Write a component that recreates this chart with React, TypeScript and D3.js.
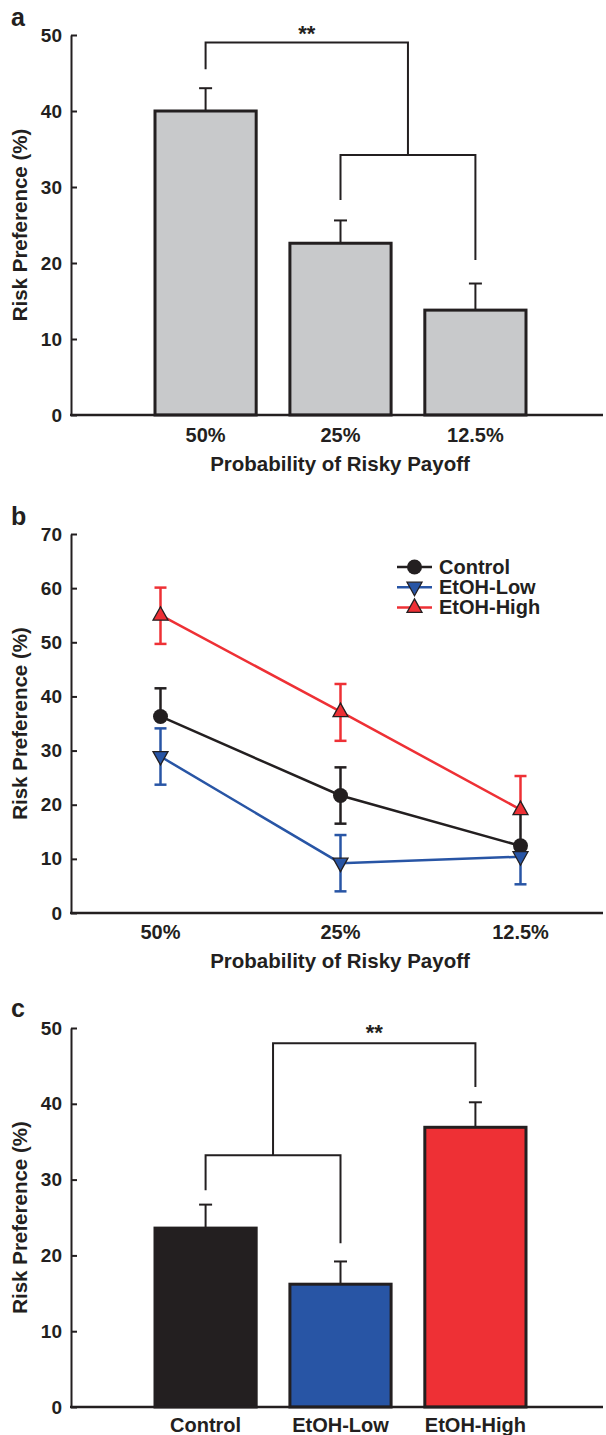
import React, { useEffect, useRef } from 'react';
import * as d3 from 'd3';

const probCats = ['50%', '25%', '12.5%'];
const groupCats = ['Control', 'EtOH-Low', 'EtOH-High'];

// panel a: risk preference by probability
const probMeans = [40.0, 22.6, 13.8];
const probSem = [3.0, 3.0, 3.5];
const bracketA = [49.0, 45.5, 34.2, 28.3, 20.4]; // top, left leg end, inner bracket, inner legs

// panel b: by group x probability
const controlMeans = [36.3, 21.7, 12.4];
const controlUp = [5.2, 5.2, 6.0];
const controlDown = [0, 5.2, 0];
const lowMeans = [28.9, 9.2, 10.4];
const lowUp = [5.2, 5.2, 0];
const lowDown = [5.2, 5.2, 5.1];
const highMeans = [55.0, 37.2, 19.1];
const highUp = [5.1, 5.1, 6.2];
const highDown = [5.3, 5.4, 0];

// panel c: by group
const groupMeans = [23.6, 16.2, 36.9];
const groupSem = [3.1, 3.0, 3.3];
const bracketC = [48.0, 42.2, 33.2, 28.6, 21.6];

const ticksA = [0, 10, 20, 30, 40, 50];
const ticksB = [0, 10, 20, 30, 40, 50, 60, 70];
const ticksC = [0, 10, 20, 30, 40, 50];

const INK = '#231f20';
const RED = '#ee3035';
const BLUE = '#2855a5';
const GREY = '#c8c9cb';
const FONT = '"Liberation Sans", Arial, Helvetica, sans-serif';

export default function App() {
  const svgRef = useRef<SVGSVGElement>(null);

  useEffect(() => {
    if (!svgRef.current) return;
    const svg = d3.select(svgRef.current);
    svg.selectAll('*').remove();

    const X0 = 71, X1 = 603;

    const band = d3.scaleBand<string>().range([155, 526]).paddingInner(0.25).paddingOuter(0);
    const point = d3.scalePoint<string>().domain(probCats).range([160.5, 520.5]);

    const yA = d3.scaleLinear().domain([0, 50]).range([415, 35]);
    const yB = d3.scaleLinear().domain([0, 70]).range([913, 534]);
    const yC = d3.scaleLinear().domain([0, 50]).range([1407, 1028]);

    const yAxis = (y: d3.ScaleLinear<number, number>, ticks: number[]) => {
      const g = svg.append('g')
        .attr('transform', `translate(${X0},0)`)
        .call(d3.axisLeft(y).tickValues(ticks).tickSizeInner(-6).tickSizeOuter(0).tickPadding(9));
      g.attr('font-family', FONT).attr('font-size', 19).attr('font-weight', 'bold');
      g.select('.domain').attr('stroke', INK).attr('stroke-width', 2);
      g.selectAll('.tick line').attr('stroke', INK).attr('stroke-width', 2);
      g.selectAll('.tick text').attr('fill', INK);
      svg.append('line')
        .attr('x1', X0 - 1).attr('x2', X1)
        .attr('y1', y(0)).attr('y2', y(0))
        .attr('stroke', INK).attr('stroke-width', 2.5);
      const [r0, r1] = y.range();
      svg.append('text')
        .attr('transform', `translate(19,${(r0 + r1) / 2}) rotate(-90)`)
        .attr('text-anchor', 'middle').attr('dominant-baseline', 'central')
        .attr('font-family', FONT).attr('font-size', 20.5).attr('font-weight', 'bold')
        .attr('fill', INK)
        .text('Risk Preference (%)');
    };

    const catLabels = (cats: string[], xs: (c: string) => number, yy: number) => {
      svg.append('g').selectAll('text').data(cats).join('text')
        .attr('x', d => xs(d)).attr('y', yy)
        .attr('text-anchor', 'middle').attr('dominant-baseline', 'central')
        .attr('font-family', FONT).attr('font-size', 20).attr('font-weight', 'bold')
        .attr('fill', INK)
        .text(d => d);
    };

    const xTitle = (yy: number) => {
      svg.append('text')
        .attr('x', (208 + 472) / 2).attr('y', yy)
        .attr('text-anchor', 'middle').attr('dominant-baseline', 'central')
        .attr('font-family', FONT).attr('font-size', 20.5).attr('font-weight', 'bold')
        .attr('fill', INK)
        .text('Probability of Risky Payoff');
    };

    const panelLabel = (t: string, yy: number) => {
      svg.append('text')
        .attr('x', 11).attr('y', yy)
        .attr('font-family', FONT).attr('font-size', 25).attr('font-weight', 'bold')
        .attr('fill', INK)
        .text(t);
    };

    const bars = (cats: string[], means: number[], sem: number[], y: d3.ScaleLinear<number, number>, fills: string[]) => {
      band.domain(cats);
      const g = svg.append('g');
      cats.forEach((c, i) => {
        const cx = band(c)! + band.bandwidth() / 2;
        g.append('line')
          .attr('x1', cx).attr('x2', cx)
          .attr('y1', y(means[i])).attr('y2', y(means[i] + sem[i]))
          .attr('stroke', INK).attr('stroke-width', 2);
        g.append('line')
          .attr('x1', cx - 6.5).attr('x2', cx + 6.5)
          .attr('y1', y(means[i] + sem[i])).attr('y2', y(means[i] + sem[i]))
          .attr('stroke', INK).attr('stroke-width', 2);
        g.append('rect')
          .attr('x', band(c)!).attr('y', y(means[i]))
          .attr('width', band.bandwidth()).attr('height', y(0) - y(means[i]))
          .attr('fill', fills[i]).attr('stroke', INK).attr('stroke-width', 3);
      });
      return (c: string) => band(c)! + band.bandwidth() / 2;
    };

    const bracket = (x1: number, x2: number, x3: number, y: d3.ScaleLinear<number, number>, lv: number[]) => {
      // outer bracket from x1 to midpoint of (x2,x3), inner bracket from x2 to x3
      const xm = (x2 + x3) / 2;
      const p = d3.path();
      p.moveTo(x1, y(lv[1])); p.lineTo(x1, y(lv[0])); p.lineTo(xm, y(lv[0])); p.lineTo(xm, y(lv[2]));
      p.moveTo(x2, y(lv[3])); p.lineTo(x2, y(lv[2])); p.lineTo(x3, y(lv[2])); p.lineTo(x3, y(lv[4]));
      svg.append('path').attr('d', p.toString()).attr('fill', 'none')
        .attr('stroke', INK).attr('stroke-width', 2);
    };

    const stars = (x: number, yy: number) => {
      svg.append('text')
        .attr('x', x).attr('y', yy).attr('text-anchor', 'middle')
        .attr('font-family', FONT).attr('font-size', 22).attr('font-weight', 'bold')
        .attr('fill', INK).text('**');
    };

    // ---------- panel a ----------
    panelLabel('a', 26);
    const cxA = bars(probCats, probMeans, probSem, yA, [GREY, GREY, GREY]);
    bracket(cxA('50%'), cxA('25%'), cxA('12.5%'), yA, [bracketA[0], bracketA[1], bracketA[2], bracketA[3], bracketA[4]]);
    stars((cxA('50%') + (cxA('25%') + cxA('12.5%')) / 2) / 2, 41);
    yAxis(yA, ticksA);
    catLabels(probCats, cxA, 435);
    xTitle(463);

    // ---------- panel b ----------
    panelLabel('b', 525);
    const series = [
      { name: 'EtOH-High', color: RED, means: highMeans, up: highUp, down: highDown, shape: 'up' },
      { name: 'EtOH-Low', color: BLUE, means: lowMeans, up: lowUp, down: lowDown, shape: 'down' },
      { name: 'Control', color: INK, means: controlMeans, up: controlUp, down: controlDown, shape: 'circle' },
    ];
    const px = (c: string) => point(c)!;

    const tri = (dir: string) => dir === 'up'
      ? 'M0,-8.5L7.5,5L-7.5,5Z'
      : 'M0,8.5L7.5,-5L-7.5,-5Z';

    const marker = (g: d3.Selection<SVGGElement, unknown, null, undefined>, shape: string, color: string, x: number, y: number) => {
      if (shape === 'circle') {
        g.append('circle').attr('cx', x).attr('cy', y).attr('r', 7.5).attr('fill', INK);
      } else {
        g.append('path').attr('d', tri(shape)).attr('transform', `translate(${x},${y})`)
          .attr('fill', color).attr('stroke', INK).attr('stroke-width', 1.3)
          .attr('stroke-linejoin', 'miter');
      }
    };

    const gErr = svg.append('g');
    const gLines = svg.append('g');
    const gMarks = svg.append('g');

    series.forEach(s => {
      probCats.forEach((c, i) => {
        const x = px(c);
        const hi = s.means[i] + s.up[i];
        const lo = s.means[i] - s.down[i];
        gErr.append('line').attr('x1', x).attr('x2', x)
          .attr('y1', yB(lo)).attr('y2', yB(hi))
          .attr('stroke', s.color).attr('stroke-width', 2.5);
        if (s.up[i] > 0) gErr.append('line').attr('x1', x - 6).attr('x2', x + 6)
          .attr('y1', yB(hi)).attr('y2', yB(hi)).attr('stroke', s.color).attr('stroke-width', 2.5);
        if (s.down[i] > 0) gErr.append('line').attr('x1', x - 6).attr('x2', x + 6)
          .attr('y1', yB(lo)).attr('y2', yB(lo)).attr('stroke', s.color).attr('stroke-width', 2.5);
      });
      const line = d3.line<number>().x((_, i) => px(probCats[i])).y(d => yB(d));
      gLines.append('path').attr('d', line(s.means)!).attr('fill', 'none')
        .attr('stroke', s.color).attr('stroke-width', 2.5);
    });
    // markers: circles first, then triangles on top
    [series[2], series[1], series[0]].forEach(s => {
      probCats.forEach((c, i) => marker(gMarks, s.shape, s.color, px(c), yB(s.means[i])));
    });

    yAxis(yB, ticksB);
    catLabels(probCats, px, 932);
    xTitle(960);

    // legend
    const legend = svg.append('g');
    const legendRows = [series[2], series[1], series[0]];
    legendRows.forEach((s, i) => {
      const ly = 567 + i * 20.2;
      legend.append('line').attr('x1', 397).attr('x2', 432).attr('y1', ly).attr('y2', ly)
        .attr('stroke', s.color).attr('stroke-width', 2.5);
      marker(legend, s.shape, s.color, 414.5, ly);
      legend.append('text').attr('x', 439).attr('y', ly).attr('dominant-baseline', 'central')
        .attr('font-family', FONT).attr('font-size', 20).attr('font-weight', 'bold')
        .attr('fill', INK).text(s.name);
    });

    // ---------- panel c ----------
    panelLabel('c', 1017);
    const cxC = bars(groupCats, groupMeans, groupSem, yC, [INK, BLUE, RED]);
    // outer bracket in c goes from the inner bracket midpoint to the third bar
    {
      const x1 = cxC('Control'), x2 = cxC('EtOH-Low'), x3 = cxC('EtOH-High');
      const xm = (x1 + x2) / 2;
      const p = d3.path();
      p.moveTo(xm, yC(bracketC[2])); p.lineTo(xm, yC(bracketC[0])); p.lineTo(x3, yC(bracketC[0])); p.lineTo(x3, yC(bracketC[1]));
      p.moveTo(x1, yC(bracketC[3])); p.lineTo(x1, yC(bracketC[2])); p.lineTo(x2, yC(bracketC[2])); p.lineTo(x2, yC(bracketC[4]));
      svg.append('path').attr('d', p.toString()).attr('fill', 'none')
        .attr('stroke', INK).attr('stroke-width', 2);
      stars((xm + x3) / 2, 1040);
    }
    yAxis(yC, ticksC);
    catLabels(groupCats, cxC, 1425);
  }, []);

  return (
    <div style={{ position: 'absolute', left: 0, top: 0 }}>
      <svg ref={svgRef} width={606} height={1435} style={{ display: 'block', background: '#fff' }} />
    </div>
  );
}
